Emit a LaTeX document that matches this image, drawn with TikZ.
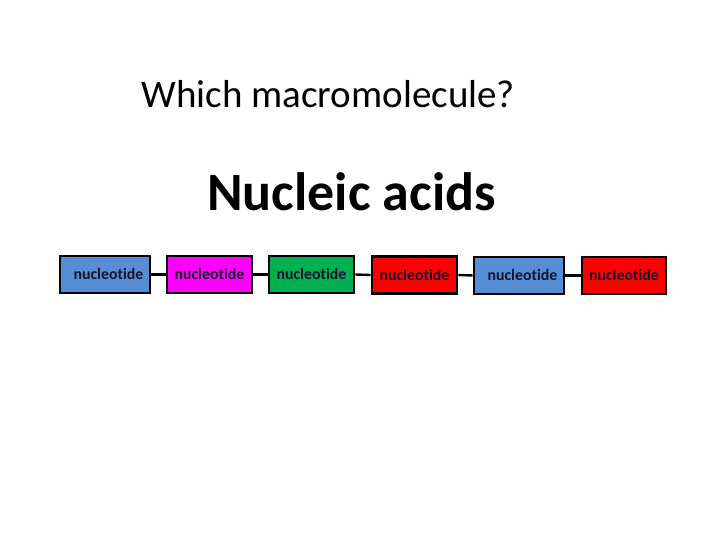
\documentclass[tikz,border=0pt]{standalone}
\usepackage{fontspec}
\setmainfont{Carlito}[Ligatures=NoCommon]
\definecolor{nblue}{RGB}{85,142,213}
\definecolor{nmag}{RGB}{255,0,255}
\definecolor{ngreen}{RGB}{0,176,80}
\definecolor{nred}{RGB}{255,0,0}
\definecolor{ntext}{RGB}{20,20,45}
\begin{document}
\begin{tikzpicture}[x=1pt,y=1pt,
  nbox/.style={draw=black,line width=2.6pt,minimum height=37pt,inner sep=0pt,
    font=\fontsize{15.8}{16}\selectfont\bfseries,text=ntext},
  link/.style={draw=black,line width=2.4pt}]
\useasboundingbox (0,0) rectangle (720,540);
\node[anchor=base west,inner sep=0pt,font=\fontsize{39}{39}\selectfont] (q) at (141.5,432.7) {Which macromolecule?};
\node[anchor=base west,inner sep=0pt,font=\fontsize{54}{54}\selectfont\bfseries] (t) at (207,329.3) {Nucleic acids};
\node[nbox,fill=nblue,minimum width=90pt] (n1) at (105,265.5) {\raisebox{-3.5pt}{\hspace*{7pt}nucleotide}};
\node[nbox,fill=nmag,minimum width=85pt] (n2) at (209.5,265.5) {\raisebox{-3.5pt}{nucleotide}};
\node[nbox,fill=ngreen,minimum width=85pt] (n3) at (311.5,265.5) {\raisebox{-3.5pt}{nucleotide}};
\node[nbox,fill=nred,minimum width=85pt] (n4) at (414.5,265) {\raisebox{-3.5pt}{nucleotide}};
\node[nbox,fill=nblue,minimum width=90pt] (n5) at (519,264.5) {\raisebox{-3.5pt}{\hspace*{7pt}nucleotide}};
\node[nbox,fill=nred,minimum width=84pt] (n6) at (624,264.5) {\raisebox{-3.5pt}{nucleotide}};
\draw[link] (n1.east) -- (n2.west);
\draw[link] (n2.east) -- (n3.west);
\draw[link] (n3.east) -- (n4.west);
\draw[link] (n4.east) -- (n5.west);
\draw[link] (n5.east) -- (n6.west);
\end{tikzpicture}
\end{document}
